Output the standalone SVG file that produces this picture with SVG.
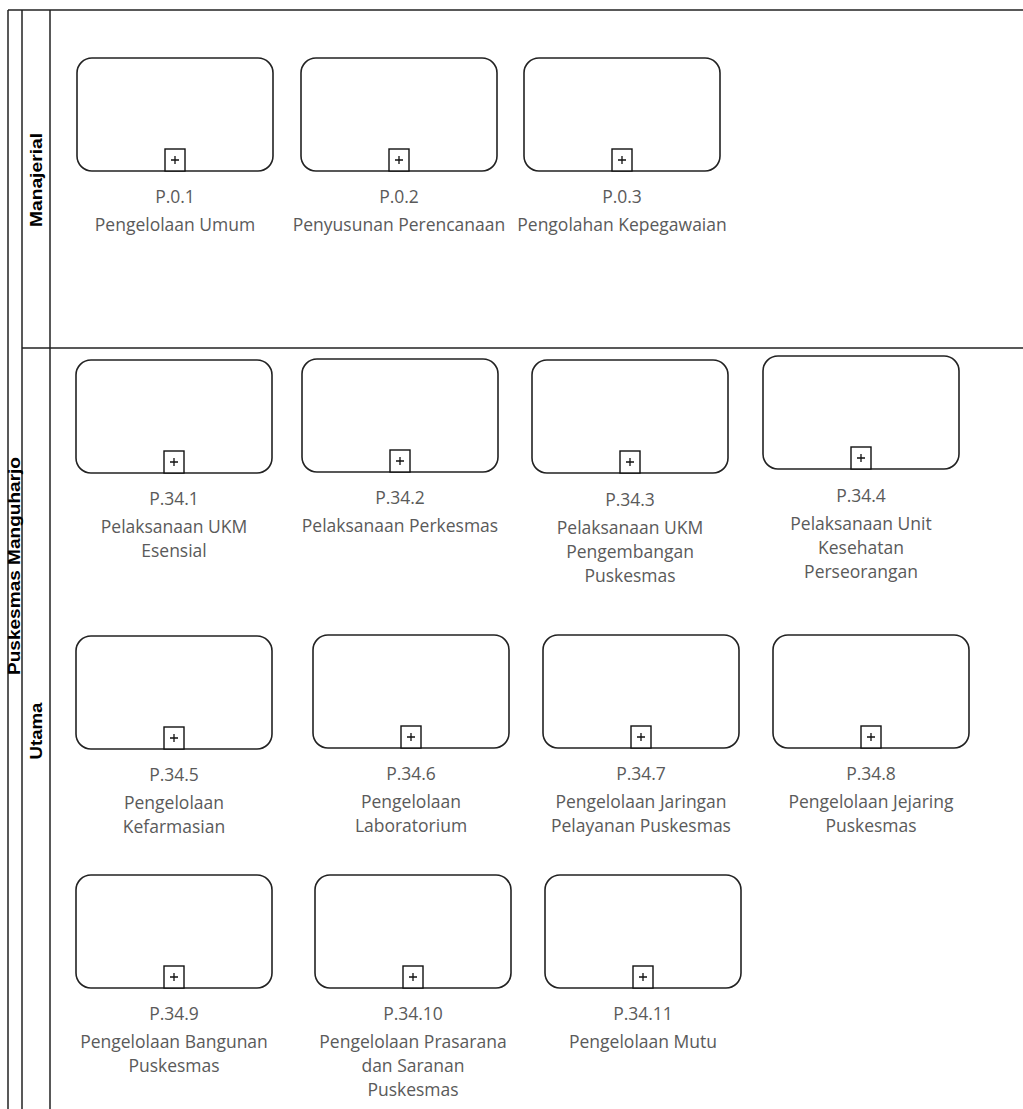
<svg xmlns="http://www.w3.org/2000/svg" width="1023" height="1109" viewBox="0 0 1023 1109">
<style>
.lane{stroke:#222;stroke-width:1.5;fill:none}
.box{fill:#fff;stroke:#222;stroke-width:1.6}
.mk{fill:#fff;stroke:#111;stroke-width:1.4}
.pl{stroke:#111;stroke-width:1.3;fill:none}
.lbl{font-family:"Open Sans","Noto Sans",sans-serif;font-size:17.5px;fill:#5a5a5a;text-anchor:middle}
.hd{font-family:"Liberation Sans",Arial,sans-serif;font-weight:bold;fill:#000;text-anchor:middle}
</style>
<rect width="1023" height="1109" fill="#fff"/>
<g id="pool">
<line class="lane" x1="8" y1="10" x2="1023" y2="10"/>
<line class="lane" x1="8" y1="10" x2="8" y2="1109"/>
<line class="lane" x1="22" y1="10" x2="22" y2="1109"/>
<line class="lane" x1="50" y1="10" x2="50" y2="1109"/>
<line class="lane" x1="22" y1="348" x2="1023" y2="348"/>
<text class="hd" font-size="16" transform="translate(20,566) rotate(-90)" textLength="218" lengthAdjust="spacingAndGlyphs">Puskesmas Manguharjo</text>
<text class="hd" font-size="17" transform="translate(42,180) rotate(-90)" textLength="94" lengthAdjust="spacingAndGlyphs">Manajerial</text>
<text class="hd" font-size="17" transform="translate(42,731) rotate(-90)" textLength="57" lengthAdjust="spacingAndGlyphs">Utama</text>
</g>
<g id="connectors"></g>
<g id="n-p01" transform="translate(77,58)"><rect class="box" width="196" height="113" rx="15"/><rect class="mk" x="88" y="91" width="20" height="22"/><path class="pl" d="M94 102h8M98 98v8"/><text class="lbl" x="98" y="145">P.0.1</text><text class="lbl" x="98" y="173">Pengelolaan Umum</text></g>
<g id="n-p02" transform="translate(301,58)"><rect class="box" width="196" height="113" rx="15"/><rect class="mk" x="88" y="91" width="20" height="22"/><path class="pl" d="M94 102h8M98 98v8"/><text class="lbl" x="98" y="145">P.0.2</text><text class="lbl" x="98" y="173">Penyusunan Perencanaan</text></g>
<g id="n-p03" transform="translate(524,58)"><rect class="box" width="196" height="113" rx="15"/><rect class="mk" x="88" y="91" width="20" height="22"/><path class="pl" d="M94 102h8M98 98v8"/><text class="lbl" x="98" y="145">P.0.3</text><text class="lbl" x="98" y="173">Pengolahan Kepegawaian</text></g>
<g id="n-p341" transform="translate(76,360)"><rect class="box" width="196" height="113" rx="15"/><rect class="mk" x="88" y="91" width="20" height="22"/><path class="pl" d="M94 102h8M98 98v8"/><text class="lbl" x="98" y="145">P.34.1</text><text class="lbl" x="98" y="173">Pelaksanaan UKM</text><text class="lbl" x="98" y="197">Esensial</text></g>
<g id="n-p342" transform="translate(302,359)"><rect class="box" width="196" height="113" rx="15"/><rect class="mk" x="88" y="91" width="20" height="22"/><path class="pl" d="M94 102h8M98 98v8"/><text class="lbl" x="98" y="145">P.34.2</text><text class="lbl" x="98" y="173">Pelaksanaan Perkesmas</text></g>
<g id="n-p343" transform="translate(532,360)"><rect class="box" width="196" height="113" rx="15"/><rect class="mk" x="88" y="91" width="20" height="22"/><path class="pl" d="M94 102h8M98 98v8"/><text class="lbl" x="98" y="146">P.34.3</text><text class="lbl" x="98" y="174">Pelaksanaan UKM</text><text class="lbl" x="98" y="198">Pengembangan</text><text class="lbl" x="98" y="222">Puskesmas</text></g>
<g id="n-p344" transform="translate(763,356)"><rect class="box" width="196" height="113" rx="15"/><rect class="mk" x="88" y="91" width="20" height="22"/><path class="pl" d="M94 102h8M98 98v8"/><text class="lbl" x="98" y="146">P.34.4</text><text class="lbl" x="98" y="174">Pelaksanaan Unit</text><text class="lbl" x="98" y="198">Kesehatan</text><text class="lbl" x="98" y="222">Perseorangan</text></g>
<g id="n-p345" transform="translate(76,636)"><rect class="box" width="196" height="113" rx="15"/><rect class="mk" x="88" y="91" width="20" height="22"/><path class="pl" d="M94 102h8M98 98v8"/><text class="lbl" x="98" y="145">P.34.5</text><text class="lbl" x="98" y="173">Pengelolaan</text><text class="lbl" x="98" y="197">Kefarmasian</text></g>
<g id="n-p346" transform="translate(313,635)"><rect class="box" width="196" height="113" rx="15"/><rect class="mk" x="88" y="91" width="20" height="22"/><path class="pl" d="M94 102h8M98 98v8"/><text class="lbl" x="98" y="145">P.34.6</text><text class="lbl" x="98" y="173">Pengelolaan</text><text class="lbl" x="98" y="197">Laboratorium</text></g>
<g id="n-p347" transform="translate(543,635)"><rect class="box" width="196" height="113" rx="15"/><rect class="mk" x="88" y="91" width="20" height="22"/><path class="pl" d="M94 102h8M98 98v8"/><text class="lbl" x="98" y="145">P.34.7</text><text class="lbl" x="98" y="173">Pengelolaan Jaringan</text><text class="lbl" x="98" y="197">Pelayanan Puskesmas</text></g>
<g id="n-p348" transform="translate(773,635)"><rect class="box" width="196" height="113" rx="15"/><rect class="mk" x="88" y="91" width="20" height="22"/><path class="pl" d="M94 102h8M98 98v8"/><text class="lbl" x="98" y="145">P.34.8</text><text class="lbl" x="98" y="173">Pengelolaan Jejaring</text><text class="lbl" x="98" y="197">Puskesmas</text></g>
<g id="n-p349" transform="translate(76,875)"><rect class="box" width="196" height="113" rx="15"/><rect class="mk" x="88" y="91" width="20" height="22"/><path class="pl" d="M94 102h8M98 98v8"/><text class="lbl" x="98" y="145">P.34.9</text><text class="lbl" x="98" y="173">Pengelolaan Bangunan</text><text class="lbl" x="98" y="197">Puskesmas</text></g>
<g id="n-p3410" transform="translate(315,875)"><rect class="box" width="196" height="113" rx="15"/><rect class="mk" x="88" y="91" width="20" height="22"/><path class="pl" d="M94 102h8M98 98v8"/><text class="lbl" x="98" y="145">P.34.10</text><text class="lbl" x="98" y="173">Pengelolaan Prasarana</text><text class="lbl" x="98" y="197">dan Saranan</text><text class="lbl" x="98" y="221">Puskesmas</text></g>
<g id="n-p3411" transform="translate(545,875)"><rect class="box" width="196" height="113" rx="15"/><rect class="mk" x="88" y="91" width="20" height="22"/><path class="pl" d="M94 102h8M98 98v8"/><text class="lbl" x="98" y="145">P.34.11</text><text class="lbl" x="98" y="173">Pengelolaan Mutu</text></g>
</svg>
